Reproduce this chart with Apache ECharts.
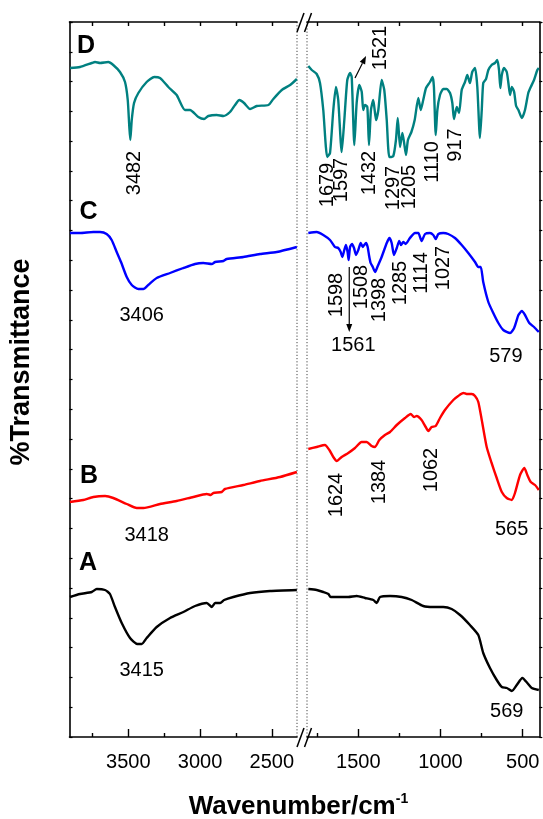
<!DOCTYPE html>
<html><head><meta charset="utf-8">
<script src="https://cdn.jsdelivr.net/npm/echarts@6/dist/echarts.min.js"></script>
<style>html,body{margin:0;padding:0;background:#fff}#c{width:543px;height:819px}</style>
</head><body><div id="c"></div>
<script>
// ---- tick values ----
const leftMajorTicks = [3500, 3000, 2500];
const leftMinorTicks = [3750, 3250, 2750];
const rightMajorTicks = [1500, 1000, 500];
const rightMinorTicks = [1750, 1250, 750];
const leftRange = [2324, 3910];
const rightRange = [399, 1812];
const yRange = [0, 715];

// ---- spectra: [wavenumber, %T (offset, arbitrary units)] ----
const D_left = [[3906,669],[3837,670],[3755,674],[3732,675],[3697,674],[3640,675],[3605,672],[3558,665],[3523,655],[3504,637],[3493,610],[3486,597],[3476,617],[3460,634],[3430,644],[3372,655],[3319,660],[3279,659],[3221,650],[3163,642],[3105,627],[3070,627],[3012,620],[2972,618],[2942,621],[2884,622],[2837,621],[2791,625],[2756,632],[2726,637],[2693,634],[2651,628],[2605,631],[2523,632],[2489,638],[2430,647],[2372,652],[2325,658]];
const D_right = [[1804,671],[1783,667],[1753,663],[1733,654],[1713,627],[1689,580],[1672,584],[1652,627],[1636,650],[1622,637],[1601,585],[1585,617],[1567,657],[1550,664],[1540,660],[1524,592],[1510,634],[1494,652],[1479,645],[1470,627],[1459,632],[1445,630],[1435,592],[1423,627],[1409,637],[1392,617],[1378,627],[1358,657],[1342,647],[1327,617],[1311,580],[1287,581],[1271,597],[1260,619],[1246,590],[1232,604],[1222,595],[1210,582],[1198,597],[1177,605],[1157,617],[1135,639],[1120,627],[1105,637],[1088,649],[1064,655],[1048,660],[1040,650],[1029,602],[1019,627],[1003,642],[983,648],[962,648],[942,644],[928,634],[918,618],[901,630],[887,624],[871,647],[851,655],[837,662],[821,654],[807,665],[790,669],[776,650],[760,599],[749,627],[740,654],[723,658],[709,667],[689,672],[669,674],[655,677],[644,667],[636,649],[627,662],[614,669],[597,665],[587,654],[577,642],[566,650],[552,645],[540,631],[526,627],[505,619],[486,627],[466,644],[451,650],[431,657],[411,667],[402,669]];
const C_left = [[3907,504],[3837,504],[3744,505],[3697,505],[3651,503],[3616,497],[3581,485],[3551,475],[3511,460],[3476,452],[3430,448],[3395,448],[3361,452],[3302,459],[3209,464],[3116,469],[3035,473],[2977,474],[2918,473],[2895,475],[2837,476],[2814,478],[2698,480],[2582,483],[2465,485],[2325,490]];
const C_right = [[1804,504],[1753,505],[1713,502],[1672,497],[1642,490],[1622,489],[1607,485],[1597,480],[1585,487],[1575,492],[1565,485],[1559,477],[1550,490],[1538,493],[1526,489],[1514,482],[1500,487],[1485,494],[1473,490],[1464,492],[1453,494],[1443,490],[1435,482],[1425,474],[1412,470],[1398,465],[1384,470],[1358,480],[1327,494],[1311,499],[1297,494],[1283,482],[1266,489],[1251,496],[1240,492],[1226,495],[1212,493],[1186,499],[1155,504],[1135,504],[1115,496],[1094,503],[1064,504],[1044,502],[1029,498],[1013,503],[983,504],[953,503],[912,499],[871,492],[831,484],[790,475],[770,470],[755,470],[740,455],[709,435],[679,424],[648,414],[618,407],[577,404],[552,409],[526,422],[505,426],[486,422],[460,414],[431,410],[402,405]];
const B_left = [[3907,235],[3814,237],[3744,240],[3662,241],[3605,239],[3511,233],[3441,229],[3395,229],[3279,233],[3163,236],[3047,240],[2953,243],[2925,242],[2907,244],[2849,245],[2826,248],[2698,252],[2582,256],[2442,260],[2325,265]];
const B_right = [[1804,288],[1753,290],[1703,292],[1676,287],[1652,280],[1631,276],[1601,280],[1561,284],[1520,289],[1480,295],[1449,295],[1419,291],[1398,290],[1372,297],[1338,302],[1307,305],[1266,312],[1216,319],[1181,323],[1161,320],[1145,321],[1115,317],[1090,310],[1074,306],[1054,310],[1029,311],[1003,319],[973,327],[922,337],[892,341],[861,344],[841,343],[810,343],[790,341],[770,335],[749,317],[719,290],[689,274],[658,259],[627,245],[597,239],[566,237],[547,244],[516,262],[490,269],[472,262],[451,255],[425,252],[402,247]];
const A_left = [[3907,140],[3837,143],[3755,145],[3720,148],[3662,147],[3628,143],[3593,130],[3546,114],[3488,99],[3437,93],[3407,93],[3372,99],[3302,110],[3209,119],[3116,125],[3035,131],[2953,134],[2918,130],[2895,134],[2860,134],[2832,137],[2768,140],[2651,144],[2512,146],[2325,147]];
const A_right = [[1804,148],[1753,147],[1713,145],[1682,143],[1668,140],[1611,140],[1561,140],[1510,141],[1459,139],[1409,137],[1388,134],[1368,140],[1307,141],[1236,140],[1175,137],[1105,131],[1044,130],[983,130],[932,128],[881,122],[821,112],[770,102],[740,84],[699,69],[658,57],[627,50],[597,49],[566,46],[536,52],[502,59],[472,54],[445,49],[402,47]];

// ---- text annotations: [text, panel, wavenumber, %T, rotated] ----
const sampleLetters = [['D',0,3795,691],['C',0,3778,525],['B',0,3774,261],['A',0,3781,174]];
const peakLabels = [
  ['3482',0,3460,564,true],['3406',0,3407,422,false],['3418',0,3372,202,false],['3415',0,3407,67,false],
  ['1679',1,1689,552,true],['1597',1,1601,557,true],['1432',1,1429,564,true],['1297',1,1283,549,true],
  ['1205',1,1186,550,true],['1110',1,1047,575,true],['917',1,908,592,true],['1521',1,1364,689,true],
  ['1598',1,1631,442,true],['1508',1,1479,450,true],['1398',1,1372,437,true],['1285',1,1246,454,true],
  ['1114',1,1114,464,true],['1027',1,983,469,true],['1561',1,1530,392,false],['579',1,602,381,false],
  ['1624',1,1631,242,true],['1384',1,1372,255,true],['1062',1,1053,267,true],['565',1,567,208,false],
  ['569',1,597,26,false]
];
// arrows: [panel, fromW, fromT, toW, toT]
const arrows = [[1,1520,659,1453,681],[1,1555,470,1555,405]];

const FONT = '"Liberation Sans", Arial, Helvetica, sans-serif';
const chart = echarts.init(document.getElementById('c'), null, {renderer:'canvas'});
const axisLine = {show:true, lineStyle:{color:'#000', width:1.6}};
const grids = [
  {left:69.5, top:22, width:227.5, height:715},
  {left:307, top:22, width:232.3, height:715}
];
function xa(grid, range, pos, ticks, len, labels, showLine){
  return {type:'value', gridIndex:grid, min:range[0], max:range[1], inverse:true, position:pos,
    axisLine: showLine ? axisLine : {show:false},
    axisTick:{show:true, inside:true, length:len, customValues:ticks, lineStyle:{color:'#000', width:1.4}},
    axisLabel: labels ? {show:true, customValues:labels, margin:15, color:'#000', fontSize:20, fontFamily:FONT,
                         formatter: v => String(v)} : {show:false},
    splitLine:{show:false}};
}
const yInt = (yRange[1]-yRange[0])/24;
const option = {
  animation:false,
  backgroundColor:'#fff',
  grid: grids,
  xAxis: [
    xa(0, leftRange, 'bottom', leftMajorTicks, 8, leftMajorTicks, true),
    xa(0, leftRange, 'bottom', leftMinorTicks, 4, null, false),
    xa(1, rightRange, 'bottom', rightMajorTicks, 8, rightMajorTicks, true),
    xa(1, rightRange, 'bottom', rightMinorTicks, 4, null, false),
    xa(0, leftRange, 'top', leftMajorTicks.concat(leftMinorTicks), 4, null, true),
    xa(1, rightRange, 'top', rightMajorTicks.concat(rightMinorTicks), 4, null, true)
  ],
  yAxis: [
    {type:'value', gridIndex:0, min:yRange[0], max:yRange[1], interval:yInt, position:'left',
     axisLine:axisLine, axisTick:{show:true, inside:true, length:3, lineStyle:{color:'#000', width:1.2}},
     axisLabel:{show:false}, splitLine:{show:false}},
    {type:'value', gridIndex:1, min:yRange[0], max:yRange[1], interval:yInt, position:'right',
     axisLine:axisLine, axisTick:{show:true, inside:false, length:3, lineStyle:{color:'#000', width:1.2}},
     axisLabel:{show:false}, splitLine:{show:false}}
  ],
  series: []
};
const spectra = [[D_left,D_right,'#008080'],[C_left,C_right,'#0000ff'],[B_left,B_right,'#ff0000'],[A_left,A_right,'#000000']];
spectra.forEach(s=>{
  option.series.push({type:'line', xAxisIndex:0, yAxisIndex:0, data:s[0], showSymbol:false, smooth:0.2,
    lineStyle:{color:s[2], width:2.4}, silent:true});
  option.series.push({type:'line', xAxisIndex:2, yAxisIndex:1, data:s[1], showSymbol:false, smooth:0.2,
    lineStyle:{color:s[2], width:2.4}, silent:true});
});
chart.setOption(option);

function px(panel, w, T){ return chart.convertToPixel({seriesIndex: panel===0?0:1}, [w, T]); }
const g = [];
// axis break: dotted lines and slashes
const top0 = px(0, leftRange[0], yRange[1]), bot0 = px(0, leftRange[0], yRange[0]);
const top1 = px(1, rightRange[1], yRange[1]);
const plotLeft = px(0, leftRange[1], 0)[0], plotRight = px(1, rightRange[0], 0)[0];
[top0[0], top1[0]].forEach(x=>{
  g.push({type:'line', shape:{x1:x, y1:top0[1], x2:x, y2:bot0[1]}, style:{stroke:'#444', lineWidth:1, lineDash:[1.2,2]}});
});
[top0[1], bot0[1]].forEach(y=>{
  [top0[0], top0[0]+7.5].forEach(x=>{
    g.push({type:'line', shape:{x1:x, y1:y+10, x2:x+7, y2:y-9}, style:{stroke:'#000', lineWidth:1.5}});
  });
});
sampleLetters.forEach(l=>{
  const p = px(l[1], l[2], l[3]);
  g.push({type:'text', x:p[0], y:p[1], style:{text:l[0], font:'bold 25px '+FONT, fill:'#000', align:'center', verticalAlign:'middle'}});
});
peakLabels.forEach(l=>{
  const p = px(l[1], l[2], l[3]);
  g.push({type:'text', x:p[0], y:p[1], rotation: l[4] ? Math.PI/2 : 0,
    style:{text:l[0], font:'20px '+FONT, fill:'#000', align:'center', verticalAlign:'middle'}});
});
arrows.forEach(a=>{
  const p1 = px(a[0], a[1], a[2]), p2 = px(a[0], a[3], a[4]);
  const dx = p2[0]-p1[0], dy = p2[1]-p1[1], L = Math.hypot(dx,dy), ux = dx/L, uy = dy/L;
  const hl = 8, hw = 3;
  const bx = p2[0]-ux*hl, by = p2[1]-uy*hl;
  g.push({type:'line', shape:{x1:p1[0], y1:p1[1], x2:bx, y2:by}, style:{stroke:'#000', lineWidth:1.2}});
  g.push({type:'polygon', shape:{points:[[p2[0],p2[1]],[bx-uy*hw, by+ux*hw],[bx+uy*hw, by-ux*hw]]}, style:{fill:'#000'}});
});
// axis titles
g.push({type:'text', x:(plotLeft + plotRight)/2 - 6, y:807,
  style:{text:'Wavenumber/cm{s|-1}', font:'bold 26px '+FONT, fill:'#000', align:'center', verticalAlign:'middle',
    rich:{s:{fontSize:14, fontWeight:'bold', fontFamily:FONT, verticalAlign:'top', padding:[0,0,16,0]}}}});
g.push({type:'text', x:22, y:362, rotation:Math.PI/2,
  style:{text:'%Transmittance', font:'bold 27px '+FONT, fill:'#000', align:'center', verticalAlign:'middle'}});
chart.setOption({graphic:{elements:g}});
</script></body></html>
